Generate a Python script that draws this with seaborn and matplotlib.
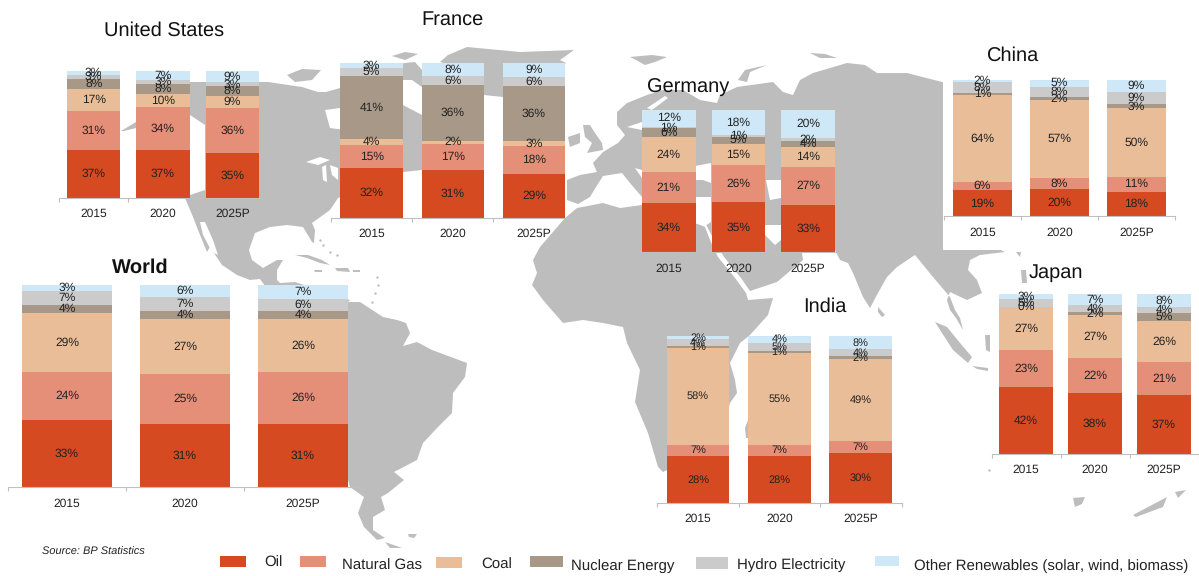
import matplotlib
matplotlib.use("Agg")
import matplotlib.pyplot as plt
from matplotlib.patches import Polygon, Rectangle
import pandas as pd
import seaborn as sns

WIDTH, HEIGHT = 1199, 576

YEARS = ["2015", "2020", "2025P"]
SOURCES = ["Oil", "Natural Gas", "Coal", "Nuclear Energy", "Hydro Electricity", "Other Renewables"]
COLORS = ["#D54A20", "#E58E78", "#E9BD98", "#A89887", "#CBCBCB", "#CFE8F7"]

# Primary energy mix, % per year, ordered as in SOURCES
united_states = [[37, 31, 17, 8, 3, 3], [37, 34, 10, 8, 3, 7], [35, 36, 9, 8, 3, 9]]
france = [[32, 15, 4, 41, 5, 3], [31, 17, 2, 36, 6, 8], [29, 18, 3, 36, 6, 9]]
germany = [[34, 21, 24, 6, 1, 12], [35, 26, 15, 5, 1, 18], [33, 27, 14, 4, 2, 20]]
china = [[19, 6, 64, 1, 8, 2], [20, 8, 57, 2, 8, 5], [18, 11, 50, 3, 9, 9]]
world = [[33, 24, 29, 4, 7, 3], [31, 25, 27, 4, 7, 6], [31, 26, 26, 4, 6, 7]]
india = [[28, 7, 58, 1, 4, 2], [28, 7, 55, 1, 5, 4], [30, 7, 49, 2, 4, 8]]
japan = [[42, 23, 27, 0, 5, 3], [38, 22, 27, 2, 4, 7], [37, 21, 26, 5, 4, 8]]

# values, axis left/right, baseline, top (pixels), label size
PANELS = [
    (united_states, 59, 267, 197.5, 71, 8.6),
    (france, 331, 574.6, 218, 63.3, 8.3),
    (germany, 634, 843, 252.3, 109.5, 8.3),
    (china, 944, 1175, 216.3, 79.7, 8.3),
    (world, 8, 362, 487.3, 284.7, 8.6),
    (india, 657.3, 901.5, 503, 336, 8.2),
    (japan, 991.5, 1198.5, 454, 294.3, 8.3),
]
TITLES = [
    ("United States", 164.5, 31, "normal"), ("France", 452, 20, "normal"),
    ("Germany", 688, 87.5, "normal"), ("China", 1013, 56, "normal"),
    ("World", 140, 267.5, "bold"), ("India", 824.5, 306.5, "normal"),
    ("Japan", 1056, 272.5, "normal"),
]

# Backdrop world map outlines, in figure pixels
LAND = [
    # North and Central America
    [(185, 198), (193, 217), (198, 230), (207, 252), (210, 247), (222, 265), (237, 275), (250, 280),
     (260, 279), (268, 290), (345, 305), (350, 300), (295, 282), (280, 283), (277, 280), (277, 270),
     (283, 260), (277, 260), (263, 268), (252, 260), (249, 250), (255, 233), (270, 227), (287, 225),
     (303, 227), (312, 242), (314, 243), (315, 230), (312, 223), (330, 210), (338, 198), (403, 172),
     (422, 170), (422, 115), (403, 105), (340, 88), (326, 92), (318, 92), (302, 87),
     (268, 82), (190, 82), (150, 100), (150, 125), (190, 115), (205, 125), (205, 190), (190, 195)],
    # Arctic islands and Greenland
    [(287, 75), (302, 69), (321, 70), (312, 80), (295, 82)],
    [(392, 56), (405, 52), (418, 54), (405, 60)],
    [(395, 64), (415, 62), (422, 70), (422, 87), (412, 80), (402, 80)],
    [(440, 62), (448, 55), (467, 47), (520, 52), (574, 50), (560, 60), (566, 63), (545, 85),
     (503, 97), (484, 95), (470, 70)],
    # Aleutian tail
    [(121, 131), (136, 122), (136, 128), (124, 131)],
    # Caribbean
    [(295, 255), (308, 255), (322, 260), (330, 265), (320, 263), (307, 258)],
    [(335, 268), (348, 268), (350, 272), (337, 271)],
    [(314, 270), (322, 270), (322, 272), (315, 272)],
    [(353, 270), (360, 270), (360, 272), (353, 272)],
    # South America
    [(340, 305), (349, 302), (360, 302), (383, 317), (397, 320), (406, 323), (410, 333), (403, 346),
     (417, 342), (432, 350), (467, 363), (465, 377), (453, 393), (452, 413), (438, 427), (423, 443),
     (417, 460), (394, 472), (404, 480), (388, 493), (381, 497), (385, 510), (373, 517), (373, 530),
     (385, 538), (377, 540), (364, 527), (358, 513), (364, 497), (350, 487), (340, 450)],
    [(385, 542), (402, 548), (390, 548)],
    [(408, 534), (417, 534), (414, 538), (409, 537)],
    # Africa
    [(565, 218), (577, 208), (603, 203), (620, 208), (642, 205), (696, 223), (705, 227), (710, 240),
     (718, 257), (735, 278), (746, 293), (748, 300), (773, 298), (768, 315), (750, 335), (740, 343),
     (730, 363), (735, 380), (737, 393), (730, 403), (720, 440), (690, 470), (667, 470), (663, 472),
     (658, 467), (648, 433), (635, 402), (640, 370), (627, 343), (623, 327), (603, 323), (583, 320),
     (563, 323), (543, 300), (532, 285), (537, 273), (533, 260), (540, 247)],
    [(748, 420), (745, 428), (746, 438), (748, 438)],
    # Eurasia with Arabia and South-East Asia
    [(567, 200), (567, 180), (580, 175), (597, 172), (593, 163), (603, 152), (618, 143), (625, 135),
     (617, 125), (617, 112), (627, 103), (647, 95), (663, 90), (683, 90), (700, 100), (717, 103),
     (720, 95), (737, 87), (773, 82), (783, 92), (793, 95), (800, 80), (813, 73), (847, 63), (865, 65),
     (877, 73), (907, 73), (942, 82), (1000, 82), (1000, 250), (1005, 252), (980, 255), (970, 260),
     (968, 270), (977, 280), (982, 293), (967, 300), (950, 292), (947, 300), (950, 310), (956, 318),
     (963, 330), (960, 318), (955, 310), (950, 297), (933, 277), (915, 255), (897, 267), (887, 277),
     (878, 293), (870, 308), (863, 297), (853, 273), (848, 263), (840, 260), (835, 250), (802, 253),
     (803, 260), (777, 282), (750, 291), (741, 278), (724, 257), (712, 236), (696, 205), (690, 190),
     (642, 197), (630, 183), (622, 173), (603, 176), (596, 187), (590, 197), (578, 204)],
    # British Isles
    [(568, 137), (580, 133), (580, 143), (570, 147)],
    [(583, 125), (590, 125), (593, 130), (602, 143), (603, 150), (587, 153), (592, 143), (585, 137)],
    # Arctic Eurasia
    [(630, 57), (652, 55), (667, 57), (655, 62), (645, 65), (636, 60)],
    [(738, 80), (745, 70), (767, 65), (750, 72), (747, 82)],
    [(810, 53), (825, 54), (837, 58), (820, 58)],
    # Islands of the Indian Ocean and South-East Asia
    [(878, 307), (885, 315), (882, 317), (878, 312)],
    [(935, 322), (947, 327), (960, 343), (972, 357), (968, 363), (953, 350), (942, 333)],
    [(972, 366), (988, 368), (988, 371), (977, 369)],
    [(985, 335), (990, 335), (990, 352), (986, 350)],
    [(1016, 252), (1021, 252), (1020, 257)],
    [(1021, 270), (1026, 270), (1027, 283), (1022, 283)],
    # Tasmania and New Zealand
    [(1073, 498), (1085, 497), (1082, 504), (1075, 507)],
    [(1133, 515), (1167, 497), (1163, 507), (1136, 517)],
    [(1175, 492), (1186, 490), (1178, 498)],
]
WATER = [
    [(200, 222), (205, 222), (213, 240), (218, 255), (212, 252), (203, 235)],
    [(325, 110), (340, 108), (345, 130), (330, 128)],
    [(306, 162), (320, 157), (330, 160), (318, 165)],
    [(322, 167), (326, 165), (327, 182), (323, 180)],
    [(330, 165), (338, 168), (338, 180), (332, 175)],
    [(627, 127), (642, 122), (642, 130)],
    [(647, 108), (665, 96), (668, 98), (652, 110)],
    [(635, 168), (642, 170), (642, 178)],
    [(695, 166), (711, 163), (711, 183), (703, 180), (695, 180)],
    [(690, 197), (711, 197), (711, 222), (705, 226), (690, 222)],
    [(766, 180), (781, 180), (781, 198), (770, 200)],
    [(765, 225), (781, 225), (781, 240), (775, 245), (765, 235)],
]
ISLET_X = [377, 378, 375, 372, 320, 323, 330, 337, 989, 1000]
ISLET_Y = [277, 285, 293, 302, 240, 245, 252, 255, 470, 250]

LEGEND_KEYS = [
    (220, 556, 26, 11), (300, 556, 26, 11), (436, 557, 26, 11),
    (530, 556, 33, 11), (696, 557, 32, 12), (875, 556, 24, 10),
]
LEGEND_TEXTS = [
    ("Oil", 264.5, 563), ("Natural Gas", 342, 566), ("Coal", 481, 565),
    ("Nuclear Energy", 571, 566), ("Hydro Electricity", 737, 565),
    ("Other Renewables (solar, wind, biomass)", 914.5, 566),
]

sns.set_theme(style="white")
plt.rcParams["font.family"] = ["Liberation Sans", "DejaVu Sans"]
plt.rcParams["text.hinting"] = "no_hinting"
plt.rcParams["text.hinting_factor"] = 1
TEXT = "#222222"
LAND_GREY = "#BDBDBD"

fig = plt.figure(figsize=(WIDTH / 100, HEIGHT / 100), dpi=100, facecolor="white")

# Base layer: map, titles, legend and source line
base = fig.add_axes([0, 0, 1, 1], zorder=0)
base.set_xlim(0, WIDTH)
base.set_ylim(HEIGHT, 0)
base.axis("off")
for outline in LAND:
    base.add_patch(Polygon(outline, closed=True, facecolor=LAND_GREY, edgecolor="none"))
for outline in WATER:
    base.add_patch(Polygon(outline, closed=True, facecolor="white", edgecolor="none"))
base.scatter(ISLET_X, ISLET_Y, s=3, color=LAND_GREY, linewidths=0)
base.add_patch(Rectangle((943, 0), WIDTH - 943, 250, facecolor="white", edgecolor="none"))

for title, x, y, weight in TITLES:
    base.text(x, y, title, ha="center", va="center", fontsize=14.3, fontweight=weight, color="#111111")
base.text(42, 552, "Source: BP Statistics", fontsize=7.8, style="italic", va="center", color=TEXT)
for (x, y, w, h), color in zip(LEGEND_KEYS, COLORS):
    base.add_patch(Rectangle((x, y), w, h, facecolor=color, edgecolor="none"))
for label, x, y in LEGEND_TEXTS:
    base.text(x, y, label, fontsize=11.1, va="center", color=TEXT)


def draw_panel(values, left, right, baseline, top, label_size):
    ax = fig.add_axes(
        [left / WIDTH, 1 - baseline / HEIGHT, (right - left) / WIDTH, (baseline - top) / HEIGHT],
        zorder=1,
    )
    ax.patch.set_visible(False)
    table = pd.DataFrame(values, columns=SOURCES, index=YEARS)
    # Rounded labels do not always add up to 100, each bar still fills the full height
    shares = table.div(table.sum(axis=1), axis=0) * 100
    bottoms = shares.cumsum(axis=1).shift(1, axis=1).fillna(0)
    for source, color in zip(SOURCES, COLORS):
        frame = pd.DataFrame({"year": YEARS, "share": shares[source].values})
        sns.barplot(
            data=frame, x="year", y="share", order=YEARS, color=color, saturation=1,
            width=0.77, errorbar=None, bottom=bottoms[source].values, linewidth=0, ax=ax,
        )
        ax.bar_label(
            ax.containers[-1], labels=[f"{v}%" for v in table[source]], label_type="center",
            fontsize=label_size, color=TEXT, padding=0,
        )
    ax.set_xlim(-0.5, 2.5)
    ax.set_ylim(0, 100)
    ax.set_xlabel("")
    ax.set_ylabel("")
    ax.set_yticks([])
    sns.despine(ax=ax, left=True)
    ax.spines["bottom"].set_color("#BFBFBF")
    ax.spines["bottom"].set_linewidth(0.8)
    ax.set_xticks([-0.5, 0.5, 1.5, 2.5], minor=True)
    ax.tick_params(axis="x", which="minor", length=3, width=0.8, color="#BFBFBF", bottom=True)
    ax.tick_params(axis="x", which="major", length=0, pad=7.5, labelsize=8.4, labelcolor=TEXT)


for panel in PANELS:
    draw_panel(*panel)

fig.savefig("out.png", dpi=100)
